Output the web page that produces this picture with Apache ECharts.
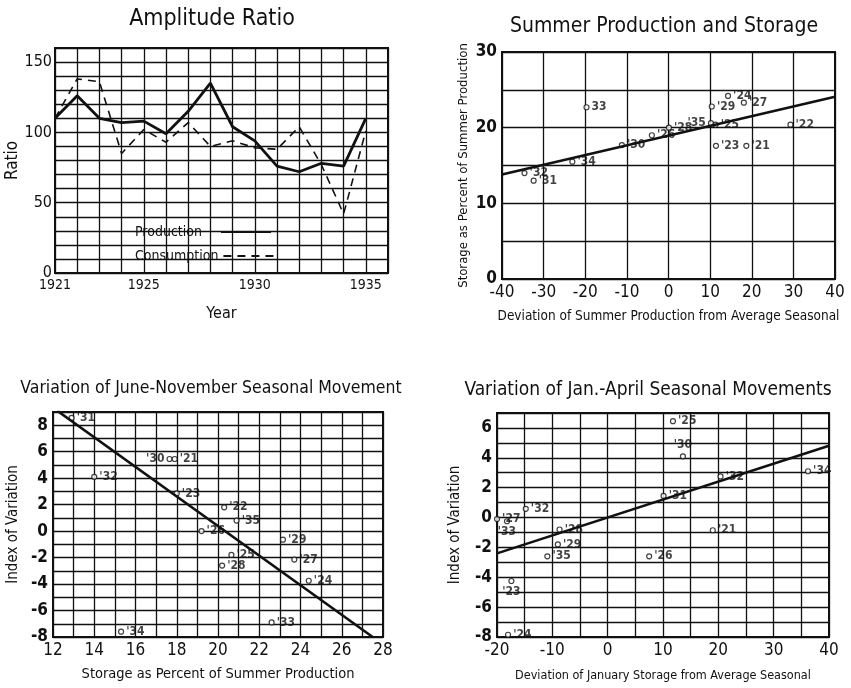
<!DOCTYPE html>
<html><head><meta charset="utf-8">
<script src="https://cdn.jsdelivr.net/npm/echarts@6/dist/echarts.min.js"></script>
<style>html,body{margin:0;padding:0;background:#fff}#c{width:851px;height:688px}</style>
</head><body><div id="c"></div>
<script>
// Panel 1: Amplitude Ratio
var years = [1921,1922,1923,1924,1925,1926,1927,1928,1929,1930,1931,1932,1933,1934,1935];
var production = [110,126,110,107,108,99,115,135,104,94,76,72,78,76,110];
var consumption = [110,138,136,85,102,93,107,90,94,89,88,104,77,42,101];
var p1YTicks = [0,50,100,150];
var p1XTicks = [1921,1925,1930,1935];

// Panel 2: Summer Production and Storage
var p2Labels = ["'32","'31","'34","33","'30","'26","'28","'35","'25","'29","'24","'27","'23","'21","'22"];
var p2X = [-34.6,-32.4,-23.1,-19.7,-11.2,-4.0,0.1,10.2,11.3,10.4,14.3,18.1,11.4,18.7,29.3];
var p2Y = [14.0,13.0,15.5,22.7,17.7,19.0,20.0,20.6,20.4,22.8,24.2,23.3,17.6,17.6,20.4];
var p2LineX = [-40,40];
var p2LineY = [13.8,24.1];
var p2XTicks = [-40,-30,-20,-10,0,10,20,30,40];
var p2YTicks = [0,10,20,30];

// Panel 3: Variation of June-November Seasonal Movement
var p3Labels = ["'31","'32","'30","'21","'23","'22","'35","'26","'25","'28","'29","'27","'24","'33","'34"];
var p3X = [12.9,14.0,17.65,17.9,18.0,20.3,20.9,19.2,20.65,20.2,23.15,23.7,24.4,22.6,15.3];
var p3Y = [8.55,4.1,5.45,5.45,2.85,1.8,0.8,0,-1.8,-2.6,-0.65,-2.15,-3.75,-6.9,-7.6];
var p3LineX = [12.2,27.5];
var p3LineY = [9.1,-8];
var p3XTicks = [12,14,16,18,20,22,24,26,28];
var p3YTicks = [-8,-6,-4,-2,0,2,4,6,8];

// Panel 4: Variation of Jan.-April Seasonal Movements
var p4Labels = ["'25","'30","'34","'32","'31","'32","'27","'33","'28","'29","'35","'26","'21","'23","'24"];
var p4X = [11.8,13.6,36.2,20.4,10.1,-14.8,-20,-18.2,-8.7,-9.0,-10.9,7.5,19.0,-17.4,-18.0];
var p4Y = [6.45,4.1,3.1,2.75,1.45,0.58,-0.1,-0.25,-0.8,-1.8,-2.6,-2.6,-0.85,-4.25,-7.85];
var p4LineX = [-20,40];
var p4LineY = [-2.4,4.8];
var p4XTicks = [-20,-10,0,10,20,30,40];
var p4YTicks = [-8,-6,-4,-2,0,2,4,6];

var FONT = "'DejaVu Sans Condensed','Liberation Sans Narrow','Liberation Sans',sans-serif";
var BLACK = '#111';

function pairs(xs, ys){ return xs.map(function(x,i){ return [x, ys[i]]; }); }
function scatterData(xs, ys, labels, pos){
  return xs.map(function(x,i){
    var d = {value:[x, ys[i]], name: labels[i]};
    if (pos && pos[labels[i]+'_'+i]) d.label = {position: pos[labels[i]+'_'+i]};
    return d;
  });
}
function showIf(list){ return function(v){ return list.indexOf(Math.round(v*1000)/1000) >= 0 ? String(v) : ''; }; }

var axisLineStyle = {show:true, onZero:false, lineStyle:{color:BLACK, width:2}};
var splitStyle = {show:true, lineStyle:{color:BLACK, width:1.3}};
function xAx(grid, min, max, interval, labelList, name, nameGap, fontSize, nameSize){
  return {type:'value', gridIndex:grid, min:min, max:max, interval:interval,
    axisLine:axisLineStyle, axisTick:{show:false}, splitLine:splitStyle,
    axisLabel:{formatter:showIf(labelList), color:BLACK, fontFamily:FONT, fontSize:fontSize, margin:5, showMaxLabel:true, showMinLabel:true},
    name:name, nameLocation:'middle', nameGap:nameGap,
    nameTextStyle:{color:BLACK, fontFamily:FONT, fontSize:nameSize}};
}
function yAx(grid, min, max, interval, labelList, name, nameGap, fontSize, nameSize, margin, weight){
  return {type:'value', gridIndex:grid, min:min, max:max, interval:interval,
    axisLine:axisLineStyle, axisTick:{show:false}, splitLine:splitStyle,
    axisLabel:{formatter:showIf(labelList), color:BLACK, fontFamily:FONT, fontSize:fontSize, margin:margin, fontWeight:weight},
    name:name, nameLocation:'middle', nameGap:nameGap, nameRotate:90,
    nameTextStyle:{color:BLACK, fontFamily:FONT, fontSize:nameSize}};
}
var scatterLabel = {show:true, position:'right', distance:2, formatter:'{b}', color:BLACK, fontFamily:FONT, fontSize:12, fontWeight:'bold'};
var scatterItem = {color:'#fff', borderColor:BLACK, borderWidth:1.2};

function titleStyle(size){ return {color:BLACK, fontFamily:FONT, fontSize:size, fontWeight:'normal'}; }
var gridBox = {show:true, borderColor:BLACK, borderWidth:2, backgroundColor:'transparent'};
var legendHide = {color:'rgba(0,0,0,0)', borderWidth:0, opacity:0};

var option = {
  backgroundColor:'#fff',
  animation:false,
  title:[
    {text:'Amplitude Ratio', left:207, top:3, textAlign:'center', textStyle:titleStyle(23)},
    {text:'Summer Production and Storage', left:659, top:11, textAlign:'center', textStyle:titleStyle(21)},
    {text:'Variation of June-November Seasonal Movement', left:206, top:374, textAlign:'center', textStyle:titleStyle(17.5)},
    {text:'Variation of Jan.-April Seasonal Movements', left:643, top:376, textAlign:'center', textStyle:titleStyle(19)}
  ],
  legend:[
    {data:['Production'], left:130, top:220, align:'right', itemWidth:50, itemHeight:10,
     itemStyle:legendHide, textStyle:{color:BLACK, fontFamily:FONT, fontSize:14, padding:[0,14,0,0]}},
    {data:['Consumption'], left:130, top:244, align:'right', itemWidth:50, itemHeight:10,
     itemStyle:legendHide, textStyle:{color:BLACK, fontFamily:FONT, fontSize:14}}
  ],
  grid:[
    Object.assign({left:55, top:48, width:333, height:225}, gridBox),
    Object.assign({left:502, top:52, width:333, height:227}, gridBox),
    Object.assign({left:53, top:412, width:330, height:225}, gridBox),
    Object.assign({left:497, top:413, width:332, height:224}, gridBox)
  ],
  xAxis:[
    xAx(0, 1921, 1936, 1, p1XTicks, 'Year', 33, 14, 16),
    xAx(1, -40, 40, 10, p2XTicks, 'Deviation of Summer Production from Average Seasonal', 30, 17, 13.5),
    xAx(2, 12, 28, 1, p3XTicks, 'Storage as Percent of Summer Production', 30, 17, 14.5),
    xAx(3, -20, 40, 5, p4XTicks, 'Deviation of January Storage from Average Seasonal', 32, 17, 12.5)
  ],
  yAxis:[
    yAx(0, 0, 160, 10, p1YTicks, 'Ratio', 18, 16, 17, 3, 'normal'),
    yAx(1, 0, 30, 5, p2YTicks, 'Storage as Percent of Summer Production', 32, 17, 13, 5, 'bold'),
    yAx(2, -8, 9, 1, p3YTicks, 'Index of Variation', 32, 17, 15, 5, 'bold'),
    yAx(3, -8, 7, 1, p4YTicks, 'Index of Variation', 34, 17, 15, 5, 'bold')
  ],
  series:[
    {name:'Production', type:'line', xAxisIndex:0, yAxisIndex:0, data:pairs(years, production),
     symbol:'none', lineStyle:{color:BLACK, width:2.8}, itemStyle:{color:BLACK}},
    {name:'Consumption', type:'line', xAxisIndex:0, yAxisIndex:0, data:pairs(years, consumption),
     symbol:'none', lineStyle:{color:BLACK, width:1.6, type:[8,6]}, itemStyle:{color:BLACK}},

    {type:'line', xAxisIndex:1, yAxisIndex:1, data:pairs(p2LineX, p2LineY), symbol:'none',
     lineStyle:{color:BLACK, width:2.6}},
    {type:'scatter', xAxisIndex:1, yAxisIndex:1, symbol:'circle', symbolSize:5,
     data:scatterData(p2X, p2Y, p2Labels, {"'35_7":'left'}), itemStyle:scatterItem, label:scatterLabel},

    {type:'line', xAxisIndex:2, yAxisIndex:2, data:pairs(p3LineX, p3LineY), symbol:'none',
     lineStyle:{color:BLACK, width:2.6}},
    {type:'scatter', xAxisIndex:2, yAxisIndex:2, symbol:'circle', symbolSize:5,
     data:scatterData(p3X, p3Y, p3Labels, {"'30_2":'left'}), itemStyle:scatterItem, label:scatterLabel},

    {type:'line', xAxisIndex:3, yAxisIndex:3, data:pairs(p4LineX, p4LineY), symbol:'none',
     lineStyle:{color:BLACK, width:2.6}},
    {type:'scatter', xAxisIndex:3, yAxisIndex:3, symbol:'circle', symbolSize:5,
     data:scatterData(p4X, p4Y, p4Labels, {"'30_1":'top', "'23_13":'bottom', "'33_7":'bottom'}), itemStyle:scatterItem, label:scatterLabel}
  ]
};
var chart = echarts.init(document.getElementById('c'), null, {renderer:'canvas'});
chart.setOption(option);
</script>
</body></html>
